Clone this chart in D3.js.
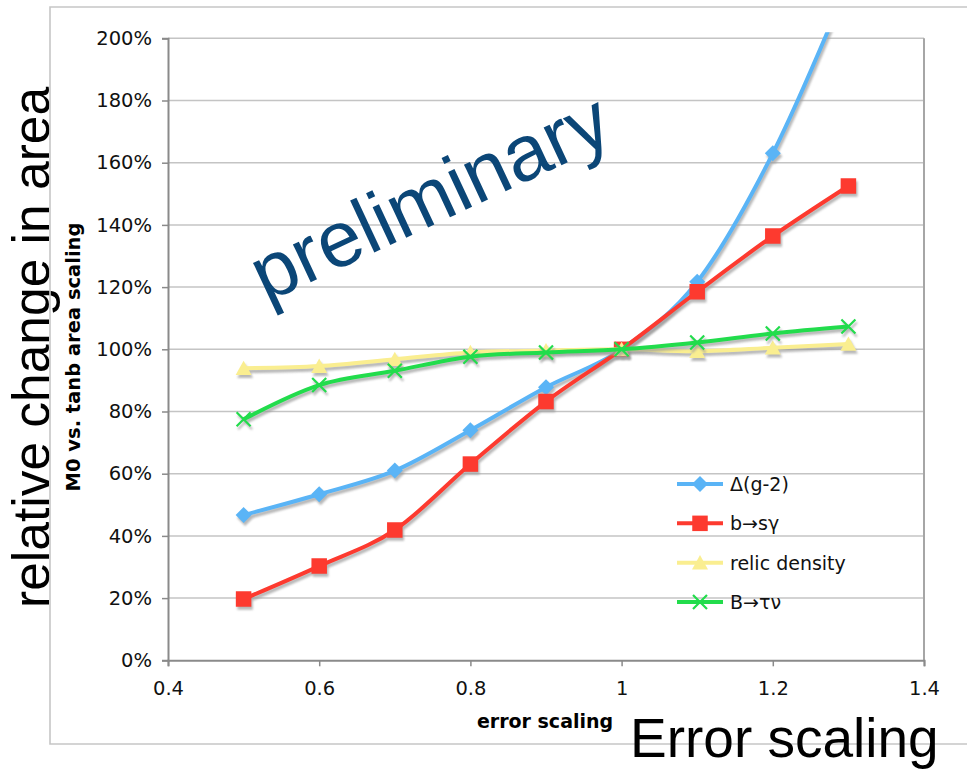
<!DOCTYPE html>
<html>
<head>
<meta charset="utf-8">
<script src="https://cdn.jsdelivr.net/npm/d3@7"></script>
<style>
  html, body { margin: 0; padding: 0; background: #fff; }
  svg { display: block; }
</style>
</head>
<body>
<div id="chart"></div>
<script>
// ---- data ----
const errorScaling = [0.5, 0.6, 0.7, 0.8, 0.9, 1.0, 1.1, 1.2, 1.3];
const g2Values     = [46.7, 53.4, 61.0, 74.0, 87.8, 100, 121.7, 163.0, 218];
const bsgValues    = [19.7, 30.3, 41.9, 63.1, 83.2, 100, 118.5, 136.4, 152.5];
const relicValues  = [93.9, 94.6, 96.8, 99.0, 99.6, 100, 99.4, 100.5, 101.7];
const btnValues    = [77.5, 88.5, 93.1, 97.6, 99.0, 100, 102.2, 105.1, 107.3];
const seriesNames  = ["Δ(g-2)", "b→sγ", "relic density", "B→τν"];
const xTicks = [0.4, 0.6, 0.8, 1.0, 1.2, 1.4];
const yTicks = [0, 20, 40, 60, 80, 100, 120, 140, 160, 180, 200];

// ---- styling ----
const colors  = ["#5ab4f6", "#fd3a2f", "#faee90", "#22dc4c"];
const symbolsFor = ["diamond", "square", "triangle", "x"];

const W = 967, H = 770;
const plot = { left: 168, right: 924, top: 38.3, bottom: 660.3 };

const svg = d3.select("#chart").append("svg").attr("width", W).attr("height", H);

const defs = svg.append("defs");
defs.append("clipPath").attr("id", "plotclip")
  .append("rect").attr("x", plot.left - 10).attr("y", plot.top - 6)
  .attr("width", plot.right - plot.left + 20).attr("height", plot.bottom - plot.top + 16);
const blur = defs.append("filter").attr("id", "shadowblur").attr("x", "-20%").attr("y", "-20%").attr("width", "140%").attr("height", "140%");
blur.append("feGaussianBlur").attr("stdDeviation", 0.8);

const x = d3.scaleLinear().domain([0.4, 1.4]).range([plot.left, plot.right]);
const y = d3.scaleLinear().domain([0, 200]).range([plot.bottom, plot.top]);

// big left annotation
svg.append("text")
  .attr("transform", "translate(49,608) rotate(-90)")
  .attr("font-family", "'Liberation Sans', Arial, sans-serif")
  .attr("font-size", 51.5)
  .attr("fill", "#000")
  .text("relative change in area");

// outer chart border
svg.append("path")
  .attr("d", d3.line()([[W + 5, 7], [50, 7], [50, 744], [W + 5, 744]]))
  .attr("fill", "none").attr("stroke", "#c6c6c6").attr("stroke-width", 1.6);

// gridlines
svg.append("g").selectAll("line").data(yTicks.filter(d => d > 0)).join("line")
  .attr("x1", plot.left).attr("x2", plot.right)
  .attr("y1", d => y(d)).attr("y2", d => y(d))
  .attr("stroke", "#c4c4c4").attr("stroke-width", 1.5);

// plot border right
svg.append("line").attr("x1", plot.right).attr("x2", plot.right)
  .attr("y1", plot.top).attr("y2", plot.bottom)
  .attr("stroke", "#a6a6a6").attr("stroke-width", 2);

// y axis
const yAxis = d3.axisLeft(y).tickValues(yTicks).tickSize(6).tickPadding(10)
  .tickFormat(d => d + "%");
const gy = svg.append("g").attr("transform", `translate(${plot.left},0)`).call(yAxis);
gy.select(".domain").attr("stroke", "#8a8a8a").attr("stroke-width", 2);
gy.selectAll(".tick line").attr("stroke", "#8a8a8a").attr("stroke-width", 1.5);
gy.selectAll(".tick text").attr("font-family", "'DejaVu Sans', Verdana, sans-serif")
  .attr("font-size", 19.5).attr("fill", "#111");

// x axis
const xAxis = d3.axisBottom(x).tickValues(xTicks).tickSize(6).tickPadding(15)
  .tickFormat(d => d3.format("")(+d.toFixed(1)));
const gx = svg.append("g").attr("transform", `translate(0,${plot.bottom})`).call(xAxis);
gx.select(".domain").attr("stroke", "#8a8a8a").attr("stroke-width", 2);
gx.selectAll(".tick line").attr("stroke", "#8a8a8a").attr("stroke-width", 1.5);
gx.selectAll(".tick text").attr("font-family", "'DejaVu Sans', Verdana, sans-serif")
  .attr("font-size", 19.5).attr("fill", "#111");

// axis titles
svg.append("text")
  .attr("x", 545).attr("y", 728).attr("text-anchor", "middle")
  .attr("font-family", "'DejaVu Sans', Verdana, sans-serif").attr("font-weight", "bold")
  .attr("font-size", 19).attr("fill", "#000")
  .text("error scaling");
svg.append("text")
  .attr("transform", "translate(80,357) rotate(-90)").attr("text-anchor", "middle")
  .attr("font-family", "'DejaVu Sans', Verdana, sans-serif").attr("font-weight", "bold")
  .attr("font-size", 19.5).attr("fill", "#000")
  .text("M0 vs. tanb area scaling");

// symbols
const symX = {
  draw(ctx, size) {
    const r = Math.sqrt(size) / 2;
    ctx.moveTo(-r, -r); ctx.lineTo(r, r);
    ctx.moveTo(r, -r); ctx.lineTo(-r, r);
  }
};
const symDiamond = {
  draw(ctx, size) {
    const r = Math.sqrt(size) / 2;
    ctx.moveTo(0, -r); ctx.lineTo(r, 0); ctx.lineTo(0, r); ctx.lineTo(-r, 0); ctx.closePath();
  }
};
const symSquare = {
  draw(ctx, size) {
    const r = Math.sqrt(size) / 2;
    ctx.rect(-r, -r, 2 * r, 2 * r);
  }
};
const symTriangle = {
  draw(ctx, size) {
    const r = Math.sqrt(size) / 2;
    ctx.moveTo(0, -r * 0.95); ctx.lineTo(r, r * 0.85); ctx.lineTo(-r, r * 0.85); ctx.closePath();
  }
};
const symbolMap = {
  diamond: d3.symbol(symDiamond, 256),
  square: d3.symbol(symSquare, 240),
  triangle: d3.symbol(symTriangle, 256),
  x: d3.symbol(symX, 196)
};

const allSeries = [g2Values, bsgValues, relicValues, btnValues].map((vals, i) => ({
  name: seriesNames[i], color: colors[i], sym: symbolsFor[i],
  pts: errorScaling.map((e, j) => [e, vals[j]])
}));

const line = d3.line().x(d => x(d[0])).y(d => y(d[1])).curve(d3.curveCardinal.tension(0));

const gData = svg.append("g").attr("clip-path", "url(#plotclip)");

function drawMarkers(g, s, pts, color) {
  const sel = g.selectAll(null).data(pts).join("path")
    .attr("transform", d => `translate(${x(d[0])},${y(d[1])})`)
    .attr("d", symbolMap[s.sym]());
  if (s.sym === "x") {
    sel.attr("fill", "none").attr("stroke", color).attr("stroke-width", 2.2);
  } else {
    sel.attr("fill", color).attr("stroke", "none");
  }
}

allSeries.forEach(s => {
  // shadow
  const sh = gData.append("g").attr("transform", "translate(1.5,3)")
    .attr("opacity", 0.7).attr("filter", "url(#shadowblur)");
  sh.append("path").attr("d", line(s.pts)).attr("fill", "none")
    .attr("stroke", "#9a9a9a").attr("stroke-width", 4);
  drawMarkers(sh, s, s.pts, "#9a9a9a");
  // series
  const g = gData.append("g");
  g.append("path").attr("d", line(s.pts)).attr("fill", "none")
    .attr("stroke", s.color).attr("stroke-width", 4).attr("stroke-linejoin", "round");
  drawMarkers(g, s, s.pts, s.color);
});

// legend
const legendY = d3.scaleLinear().domain([0, 3]).range([484, 602]);
const lg = svg.append("g");
allSeries.forEach((s, i) => {
  const yy = legendY(i);
  const item = lg.append("g");
  item.append("line").attr("x1", 677).attr("x2", 723).attr("y1", yy).attr("y2", yy)
    .attr("stroke", s.color).attr("stroke-width", 4);
  drawMarkers(item, s, [[x.invert(700), y.invert(yy)]], s.color);
  item.append("text").attr("x", 730).attr("y", yy).attr("dy", "0.36em")
    .attr("font-family", "'DejaVu Sans', Verdana, sans-serif")
    .attr("font-size", 19).attr("fill", "#111").text(s.name);
});

// preliminary watermark
svg.append("text")
  .attr("transform", "translate(266,303) rotate(-25)")
  .attr("font-family", "'Liberation Sans', Arial, sans-serif")
  .attr("font-size", 79).attr("fill", "#0b4677")
  .text("preliminary");

// bottom-right annotation
svg.append("text")
  .attr("x", 630).attr("y", 757)
  .attr("font-family", "'Liberation Sans', Arial, sans-serif")
  .attr("font-size", 55).attr("fill", "#000")
  .text("Error scaling");
</script>
</body>
</html>
